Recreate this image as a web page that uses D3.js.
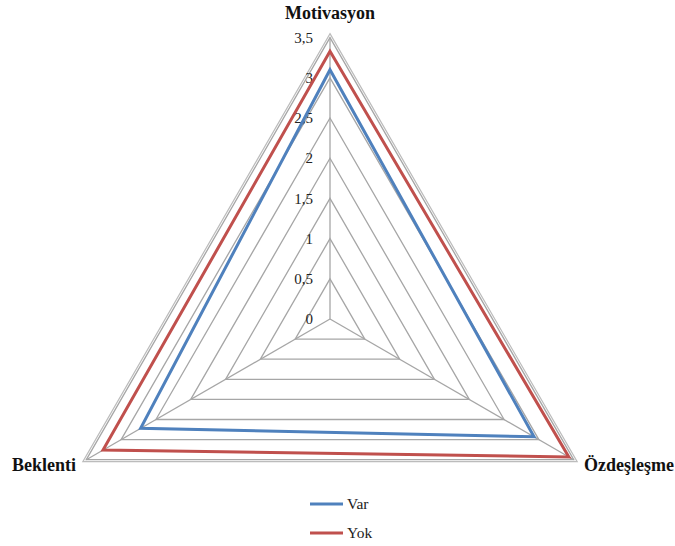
<!DOCTYPE html>
<html>
<head>
<meta charset="utf-8">
<script src="https://cdn.jsdelivr.net/npm/d3@7"></script>
</head>
<body style="margin:0;background:#fff;font-family:'Liberation Serif'">
<svg id="chart" width="675" height="546" font-family="Liberation Serif"></svg>
<script>
// Radar chart data: three dimensions, two groups
const axes = ["Motivasyon", "Özdeşleşme", "Beklenti"];
const seriesNames = ["Var", "Yok"];
const varValues = [3.1, 2.93, 2.72];
const yokValues = [3.33, 3.43, 3.26];
const tickValues = [0, 0.5, 1, 1.5, 2, 2.5, 3, 3.5];
const tickLabels = ["0", "0,5", "1", "1,5", "2", "2,5", "3", "3,5"];
const seriesColors = ["#4f81bd", "#c0504d"];

const svg = d3.select("#chart");
const cx = 330, cy = 319;
const r = d3.scaleLinear().domain([0, 3.5]).range([0, 281.4]);
const angle = d3.scalePoint().domain(axes).range([0, 2 * Math.PI * (axes.length - 1) / axes.length]);

function pt(axis, v) {
  const a = angle(axis);
  return [cx + r(v) * Math.sin(a), cy - r(v) * Math.cos(a)];
}

const lineGen = d3.line().curve(d3.curveLinearClosed);
const grid = svg.append("g");

// concentric grid triangles
tickValues.filter(v => v > 0).forEach(v => {
  grid.append("path")
    .attr("d", lineGen(axes.map(a => pt(a, v))))
    .attr("fill", "none")
    .attr("stroke", "#a6a6a6")
    .attr("stroke-width", 1.3);
});

// outer frame just outside the top gridline
const outer = tickValues[tickValues.length - 1];
grid.append("path")
  .attr("d", lineGen(axes.map(a => {
    const a0 = angle(a), rr = r(outer) + 4;
    return [cx + rr * Math.sin(a0), cy - rr * Math.cos(a0)];
  })))
  .attr("fill", "none")
  .attr("stroke", "#bcbcbc")
  .attr("stroke-width", 1.2);

// spokes
axes.forEach(a => {
  const [x, y] = pt(a, outer);
  grid.append("line")
    .attr("x1", cx).attr("y1", cy).attr("x2", x).attr("y2", y)
    .attr("stroke", "#a6a6a6").attr("stroke-width", 1.3);
});

// value labels along the vertical spoke
svg.append("g").selectAll("text")
  .data(tickValues)
  .join("text")
  .attr("x", cx - 17)
  .attr("y", d => cy - r(d))
  .attr("dy", "0.35em")
  .attr("text-anchor", "end")
  .attr("font-size", 15)
  .attr("fill", "#222")
  .text((d, i) => tickLabels[i]);

// series polygons
[varValues, yokValues].forEach((vals, i) => {
  svg.append("path")
    .attr("d", lineGen(axes.map((a, j) => pt(a, vals[j]))))
    .attr("fill", "none")
    .attr("stroke", seriesColors[i])
    .attr("stroke-width", 3)
    .attr("stroke-linejoin", "miter");
});

// category labels
const labelPos = [
  { x: cx, y: 19, anchor: "middle" },
  { x: 584, y: 471, anchor: "start" },
  { x: 76, y: 471, anchor: "end" }
];
axes.forEach((name, i) => {
  svg.append("text")
    .attr("x", labelPos[i].x).attr("y", labelPos[i].y)
    .attr("text-anchor", labelPos[i].anchor)
    .attr("font-weight", "bold").attr("font-size", 18)
    .attr("fill", "#111")
    .text(name);
});

// legend
const legend = svg.append("g");
seriesNames.forEach((name, i) => {
  const y = 504 + i * 29;
  legend.append("line").attr("x1", 310).attr("x2", 343).attr("y1", y).attr("y2", y)
    .attr("stroke", seriesColors[i]).attr("stroke-width", 3);
  legend.append("text")
    .attr("x", 347).attr("y", y).attr("dy", "0.35em")
    .attr("font-size", 15.5).attr("fill", "#222")
    .text(name);
});
</script>
</body>
</html>
